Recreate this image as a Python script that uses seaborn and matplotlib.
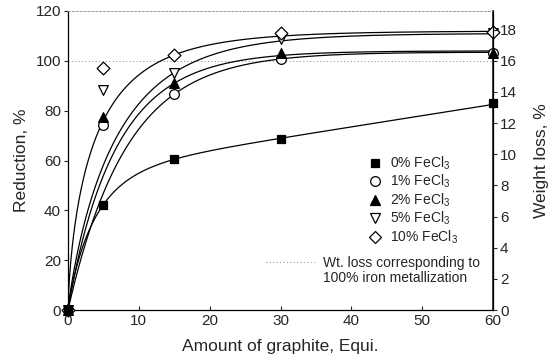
import numpy as np
import pandas as pd
import matplotlib
matplotlib.use("Agg")
import matplotlib.pyplot as plt
import seaborn as sns
from matplotlib.lines import Line2D

# ---- data ----
graphite = [0, 5, 15, 30, 60]
series = ["0% FeCl$_3$", "1% FeCl$_3$", "2% FeCl$_3$", "5% FeCl$_3$", "10% FeCl$_3$"]
red_0 = [0, 42.3, 60.5, 68.7, 83.0]
red_1 = [0, 74.3, 86.6, 100.8, 103.0]
red_2 = [0, 77.6, 91.0, 103.0, 103.2]
red_5 = [0, 88.1, 95.3, 108.8, 111.2]
red_10 = [0, 97.2, 102.4, 111.2, 111.4]
# fitted curves: y = a * (1 - exp(-(x/b)^c)) + d * x
fit_a = [55.5, 103.5, 104.0, 111.0, 112.0]
fit_b = [3.8, 8.27, 6.94, 7.0, 4.16]
fit_c = [0.9, 1.0, 0.95, 0.88, 0.7]
fit_d = [0.45, 0.0, 0.0, 0.0, 0.0]
wt_loss_full = 16.0      # weight loss (%) for 100% iron metallization
reduction_full = 100.0
x_ticks = [0, 10, 20, 30, 40, 50, 60]
y_ticks = [0, 20, 40, 60, 80, 100, 120]
y2_ticks = [0, 2, 4, 6, 8, 10, 12, 14, 16, 18]

reductions = [red_0, red_1, red_2, red_5, red_10]
markers = ["s", "o", "^", "v", "D"]
filled = [True, False, True, False, False]
msizes = [6.0, 7.0, 7.0, 7.0, 6.5]

sns.set_theme(style="ticks")
plt.rcParams["font.family"] = ["Liberation Sans", "DejaVu Sans"]
plt.rcParams["mathtext.fontset"] = "custom"
plt.rcParams["mathtext.rm"] = "Liberation Sans"
plt.rcParams["mathtext.it"] = "Liberation Sans:italic"

fig = plt.figure(figsize=(5.52, 3.6), dpi=100)
ax = fig.add_axes([68 / 552, 1 - 310 / 360, 425 / 552, 299 / 360])

xs = np.linspace(0, 60, 600)
rows = []
for name, a, b, c, d in zip(series, fit_a, fit_b, fit_c, fit_d):
    ys = a * (1 - np.exp(-(xs / b) ** c)) + d * xs
    rows.append(pd.DataFrame({"x": xs, "y": ys, "series": name}))
curves = pd.concat(rows)
for name in series:
    sub = curves[curves["series"] == name]
    sns.lineplot(data=sub, x="x", y="y", ax=ax, color="black", linewidth=0.9,
                 legend=False, zorder=2)

# dotted reference line for 100% metallization
ax.axhline(reduction_full, color="#888888", linewidth=0.7, linestyle=(0, (1, 2.5)), zorder=1)

handles = []
for name, red, mk, fl, ms in zip(series, reductions, markers, filled, msizes):
    df = pd.DataFrame({"x": graphite, "y": red})
    fc = "black" if fl else "white"
    sns.scatterplot(data=df, x="x", y="y", ax=ax, marker=mk, s=ms ** 2,
                    color=fc, edgecolor="black", linewidth=0.9,
                    zorder=4 if fl else 3, clip_on=False, legend=False)
    handles.append(Line2D([], [], linestyle="None", marker=mk, markersize=ms,
                          markerfacecolor=fc, markeredgecolor="black",
                          markeredgewidth=0.9, label=name))

ax.set_xlim(0, 60)
ax.set_ylim(0, 120)
ax.set_xticks(x_ticks)
ax.set_yticks(y_ticks)
ax.tick_params(axis="x", direction="in", length=3, labelsize=11, pad=3, width=0.8)
ax.tick_params(axis="y", direction="out", length=3, labelsize=11, pad=2, width=0.8)
ax.set_xlabel("Amount of graphite, Equi.", fontsize=12.5, labelpad=8)
ax.set_ylabel("Reduction, %", fontsize=12.5, labelpad=5)
for s in ["left", "bottom"]:
    ax.spines[s].set_linewidth(0.9)
    ax.spines[s].set_color("black")
ax.spines["top"].set_visible(True)
ax.spines["top"].set_linestyle((0, (2, 2)))
ax.spines["top"].set_color("#999999")
ax.spines["top"].set_linewidth(0.7)

ax2 = ax.twinx()
ax2.set_ylim(0, 120 * wt_loss_full / reduction_full)
ax2.set_yticks(y2_ticks)
ax2.tick_params(axis="y", direction="out", length=3, labelsize=11, pad=2, width=0.8)
ax2.set_ylabel("Weight loss, %", fontsize=12.5, labelpad=12, rotation=90)
ax2.spines["right"].set_linewidth(0.9)
ax2.spines["right"].set_color("black")
ax2.spines["top"].set_visible(False)
ax2.spines["left"].set_visible(False)
ax2.spines["bottom"].set_visible(False)

leg1 = ax.legend(handles=handles, loc="upper left", bbox_to_anchor=(0.705, 0.52),
                 frameon=False, fontsize=10, handlelength=1.0, handletextpad=0.6,
                 labelspacing=0.08, borderpad=0, borderaxespad=0)
ax.add_artist(leg1)

h_dot = Line2D([], [], color="#888888", linewidth=0.7, linestyle=(0, (1, 2.5)),
               label="Wt. loss corresponding to")
h_none = Line2D([], [], linestyle="None", label="100% iron metallization")
leg2 = ax.legend(handles=[h_dot, h_none], loc="upper left", bbox_to_anchor=(0.465, 0.18),
                 frameon=False, fontsize=10, handlelength=3.6, handletextpad=0.5,
                 labelspacing=0.05, borderpad=0, borderaxespad=0)

fig.savefig("out.png", dpi=100)
